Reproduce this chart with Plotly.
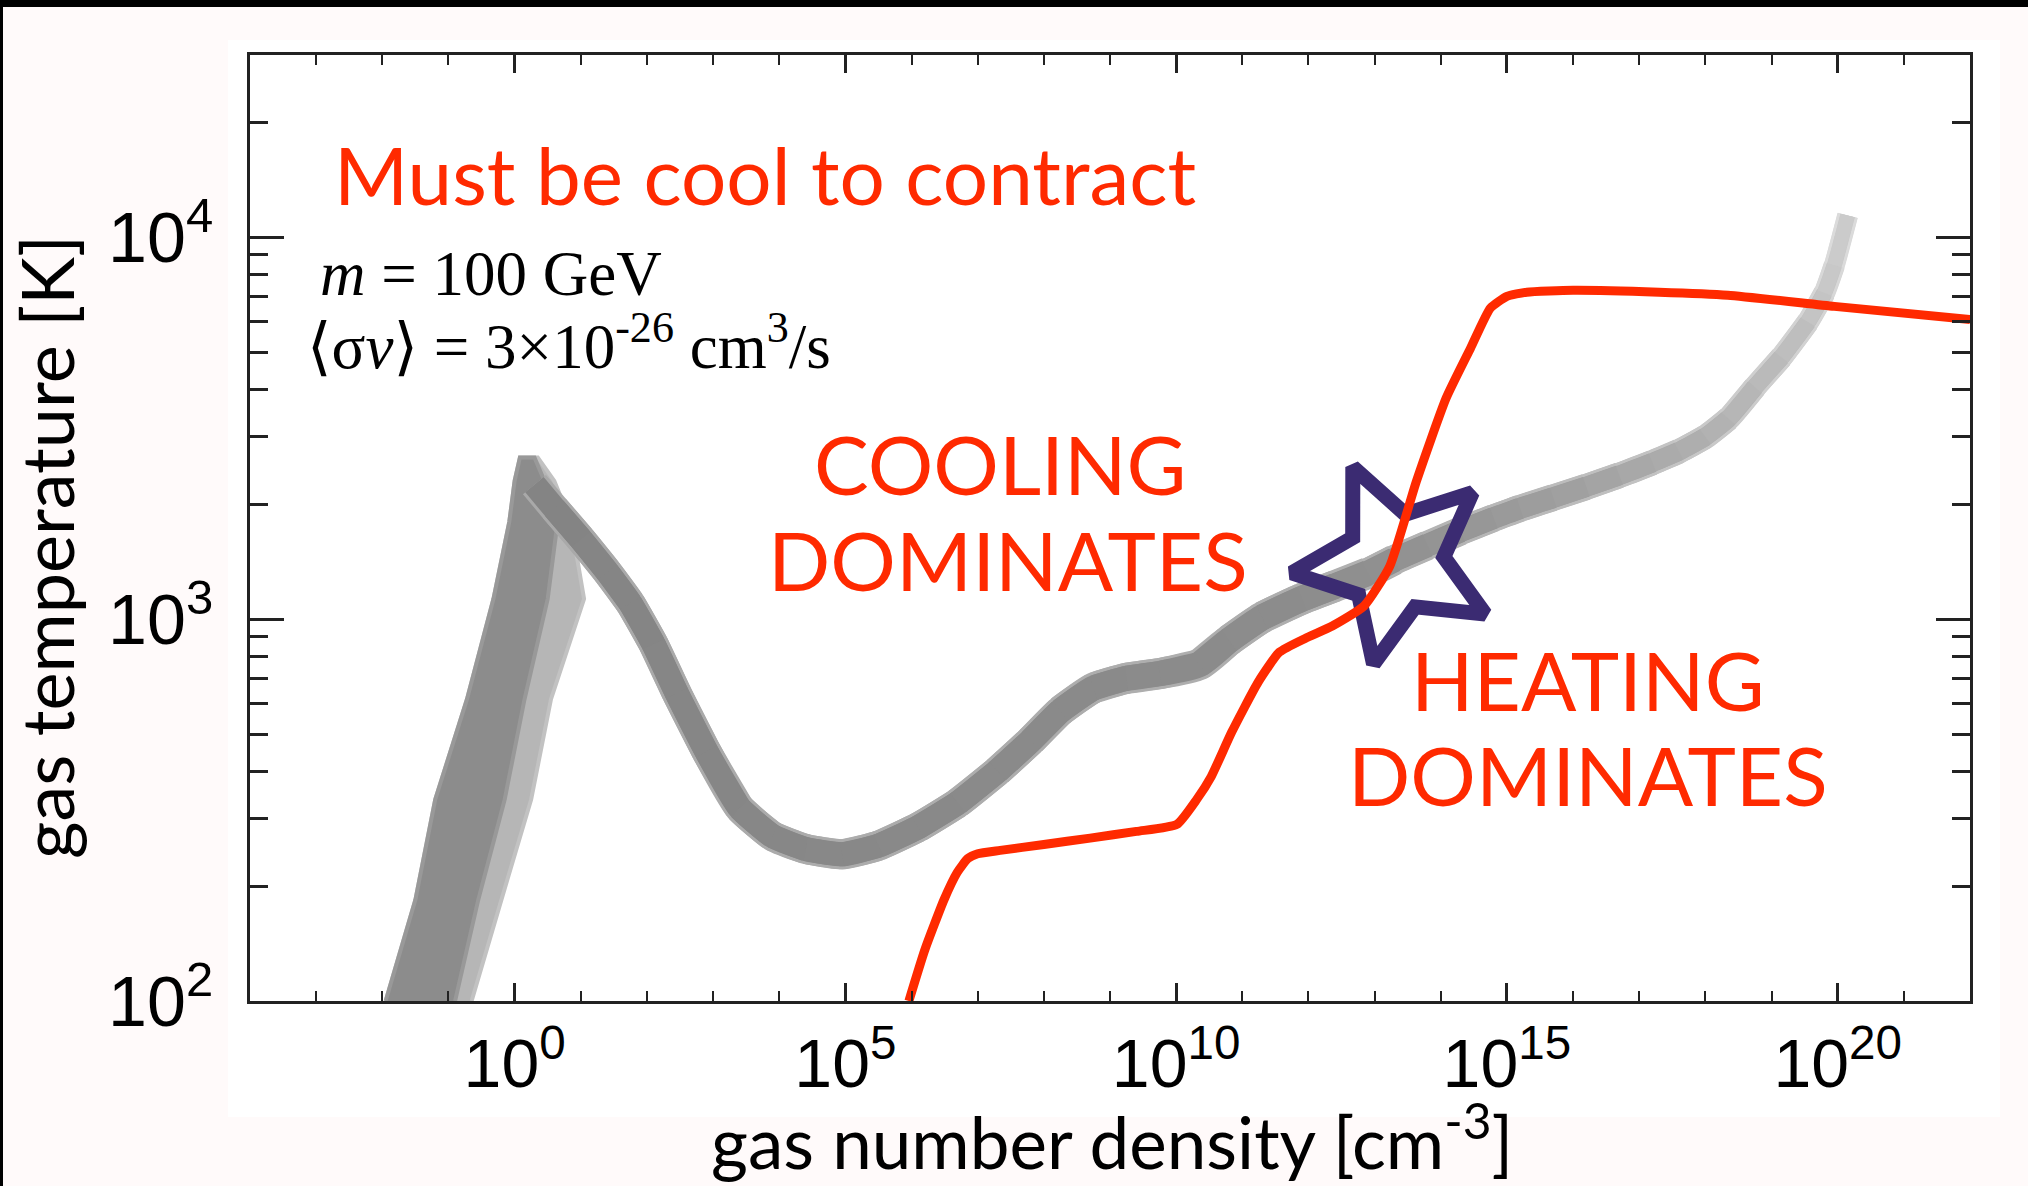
import numpy as np
import plotly.graph_objects as go

# ---------------------------------------------------------------------------
# Data
# ---------------------------------------------------------------------------
# Simulated gas track: temperature [K] vs log10 number density [cm^-3]
track_log_n = [0.3, 0.6, 1.0, 1.4, 1.75, 2.1, 2.45, 2.9, 3.4, 3.9, 4.4, 4.95,
               5.5, 6.1, 6.7, 7.3, 7.8, 8.25, 8.75, 9.25, 9.75, 10.35, 10.8,
               11.3, 11.9, 12.4, 12.9, 13.3, 13.8, 14.3, 14.8, 15.2, 15.7,
               16.2, 16.7, 17.2, 17.6, 18.0, 18.35, 18.75, 19.15, 19.55,
               19.8, 19.95, 20.15]
track_T = [2250, 1950, 1620, 1330, 1100, 860, 640, 450, 320, 270, 250, 242,
           255, 285, 330, 400, 480, 575, 660, 700, 720, 760, 880,
           1010, 1130, 1220, 1320, 1430, 1560, 1700, 1840, 1950, 2080,
           2220, 2380, 2570, 2750, 3000, 3350, 4050, 4850, 6000,
           7150, 8450, 11400]

# Low-density spread of the track (left / right envelopes at given T)
spread_T = [100, 184, 337, 617, 1130, 1800, 2300, 2650]
spread_left_log_n = [-1.95, -1.5, -1.2, -0.72, -0.32, -0.08, 0.0, 0.08]
spread_right_log_n = [-0.9, -0.55, -0.15, 0.15, 0.5, 0.65, 0.45, 0.3]
halo_right_log_n = [-0.65, -0.2, 0.25, 0.55, 1.05, 0.85, 0.6, 0.35]

# Dark-matter annihilation heating = cooling curve
heat_log_n = [5.96, 6.2, 6.49, 6.69, 6.85, 7.0, 7.34, 8.0, 8.7, 9.4, 10.01,
              10.31, 10.53, 10.84, 11.24, 11.56, 11.95, 12.36, 12.84, 13.23,
              13.63, 14.08, 14.45, 14.75, 15.0, 15.3, 16.0, 17.3,
              18.34, 19.95, 22.0]
heat_T = [100, 136, 184, 217, 236, 243, 248, 257, 267, 278, 290,
          337, 387, 506, 684, 819, 890, 959, 1082, 1377,
          2290, 3785, 5120, 6520, 7000, 7180, 7260, 7180,
          7050, 6590, 6090]

# Crossing point marked by the star
star_log_n = 13.31
star_T = 1410

# Axis ticks
x_major_exp = [0, 5, 10, 15, 20]
y_major_exp = [2, 3, 4]

# ---------------------------------------------------------------------------
# Layout geometry / styles
# ---------------------------------------------------------------------------
W, H = 2028, 1186
ML, MR, MT, MB = 250, 58, 55, 185
PW, PH = W - ML - MR, H - MT - MB
LOGN_RANGE = [-4, 22]
LOGT_RANGE = [2, np.log10(30000)]
PX_PER_DEC_X = PW / (LOGN_RANGE[1] - LOGN_RANGE[0])
PX_PER_DEC_Y = PH / (LOGT_RANGE[1] - LOGT_RANGE[0])

RED = "#ff2a00"
NAVY = "#3b2b72"
SANS = "Lato, 'Gill Sans', 'Noto Sans', sans-serif"
SERIF = "'Liberation Serif', 'Times New Roman', 'DejaVu Serif', serif"
HELV = "Liberation Sans, Arial, Helvetica, sans-serif"

# grey level and stroke width of the track as it runs to high density
shade_stop_log_n = [0.3, 6.0, 12.0, 14.0, 16.0, 18.0, 19.5, 20.15]
shade_stop_grey = [132, 137, 140, 148, 160, 176, 192, 205]
shade_stop_width = [24, 24, 26, 22, 20, 18, 16, 14]


def px_to_paper_x(px):
    return (px - ML) / PW


def px_to_paper_y(py):
    return (H - MB - py) / PH


fig = go.Figure()

# Low-density spread: light halo then darker core
halo_x = [10 ** v for v in spread_left_log_n] + [10 ** v for v in halo_right_log_n[::-1]]
halo_y = spread_T + spread_T[::-1]
fig.add_trace(go.Scatter(x=halo_x, y=halo_y, mode="lines", fill="toself",
                         fillcolor="#b6b6b6", line=dict(color="#c2c2c2", width=4),
                         hoverinfo="skip", showlegend=False))
core_x = [10 ** v for v in spread_left_log_n] + [10 ** v for v in spread_right_log_n[::-1]]
fig.add_trace(go.Scatter(x=core_x, y=halo_y, mode="lines", fill="toself",
                         fillcolor="#8c8c8c", line=dict(color="#999999", width=4),
                         hoverinfo="skip", showlegend=False))

# Main track: one short piece per interval (each running one interval ahead,
# so the next piece covers the join), shaded along the density
tn = np.array(track_log_n)
tt = np.array(track_T)
n_pts = len(tn)
for layer in ("halo", "core"):
    for k in range(n_pts - 1):
        hi = min(k + 3, n_pts)
        mid_n = 0.5 * (tn[k] + tn[k + 1])
        g = float(np.interp(mid_n, shade_stop_log_n, shade_stop_grey))
        w = float(np.interp(mid_n, shade_stop_log_n, shade_stop_width))
        if layer == "halo":
            g = g + (255 - g) * 0.3
            w = w + 6
        g = int(round(g))
        fig.add_trace(go.Scatter(
            x=10 ** tn[k:hi], y=tt[k:hi], mode="lines",
            line=dict(color=f"rgb({g},{g},{g})", width=w, shape="spline", smoothing=0.6),
            hoverinfo="skip", showlegend=False))

# Star outline around the crossing point (sizes in screen pixels)
R_OUT, R_IN, ROT = 104, 49, 24
verts = []
for k in range(10):
    ang = np.radians(90 + ROT - 36 * k)
    rad = R_OUT if k % 2 == 0 else R_IN
    verts.append((rad * np.cos(ang), rad * np.sin(ang)))
mid = ((verts[0][0] + verts[1][0]) / 2, (verts[0][1] + verts[1][1]) / 2)
path = [mid] + verts[1:] + [verts[0], mid]
sx = [10 ** (star_log_n + dx / PX_PER_DEC_X) for dx, dy in path]
sy = [10 ** (np.log10(star_T) + dy / PX_PER_DEC_Y) for dx, dy in path]

fig.add_trace(go.Scatter(x=sx, y=sy, mode="lines",
                         line=dict(color=NAVY, width=15),
                         hoverinfo="skip", showlegend=False))

# Heating curve
fig.add_trace(go.Scatter(x=[10 ** v for v in heat_log_n], y=heat_T, mode="lines",
                         line=dict(color=RED, width=9, shape="spline", smoothing=0.5),
                         hoverinfo="skip", showlegend=False))

# ---------------------------------------------------------------------------
# Axes
# ---------------------------------------------------------------------------
x_minor = [10.0 ** k for k in range(-3, 22) if k % 5 != 0]
y_minor = [m * 10.0 ** e for e in (2, 3) for m in range(2, 10)] + [20000]

fig.update_xaxes(
    type="log", range=LOGN_RANGE,
    tickmode="array",
    tickvals=[10.0 ** e for e in x_major_exp],
    ticktext=[f"10<sup>{e}</sup>" for e in x_major_exp],
    ticks="inside", ticklen=18, tickwidth=2.5, tickcolor="#222",
    minor=dict(tickmode="array", tickvals=x_minor, ticks="inside",
               ticklen=10, tickwidth=2, tickcolor="#222"),
    showline=True, linecolor="#222", linewidth=2.5, mirror="ticks",
    showgrid=False, zeroline=False,
    tickfont=dict(family=HELV, size=68, color="black"),
    ticklabelstandoff=2,
)
fig.update_yaxes(
    type="log", range=LOGT_RANGE,
    tickmode="array",
    tickvals=[10.0 ** e for e in y_major_exp],
    ticktext=[f"10<sup>{e}</sup>" for e in y_major_exp],
    ticks="inside", ticklen=34, tickwidth=3, tickcolor="#222",
    minor=dict(tickmode="array", tickvals=y_minor, ticks="inside",
               ticklen=18, tickwidth=3, tickcolor="#222"),
    showline=True, linecolor="#222", linewidth=2.5, mirror="ticks",
    showgrid=False, zeroline=False,
    tickfont=dict(family=HELV, size=70, color="black"),
    ticklabelstandoff=20,
)

# ---------------------------------------------------------------------------
# Background panels
# ---------------------------------------------------------------------------
shapes = [
    # white panel behind the plot
    dict(type="rect", xref="paper", yref="paper", layer="below",
         x0=px_to_paper_x(228), x1=px_to_paper_x(2000),
         y0=px_to_paper_y(1117), y1=px_to_paper_y(40),
         fillcolor="white", line=dict(width=0)),
    # black frame strips
    dict(type="rect", xref="paper", yref="paper", layer="above",
         x0=px_to_paper_x(-5), x1=px_to_paper_x(W + 5),
         y0=px_to_paper_y(7), y1=px_to_paper_y(-5),
         fillcolor="black", line=dict(width=0)),
    dict(type="rect", xref="paper", yref="paper", layer="above",
         x0=px_to_paper_x(-5), x1=px_to_paper_x(3),
         y0=px_to_paper_y(H + 5), y1=px_to_paper_y(-5),
         fillcolor="black", line=dict(width=0)),
]

# ---------------------------------------------------------------------------
# Text
# ---------------------------------------------------------------------------
def note(text, px_x, px_bottom, font, size, color, xanchor="left"):
    return dict(text=text, xref="paper", yref="paper",
                x=px_to_paper_x(px_x), y=px_to_paper_y(px_bottom),
                xanchor=xanchor, yanchor="bottom", showarrow=False,
                font=dict(family=font, size=size, color=color))

annotations = [
    note("Must be cool to contract", 332, 224, SANS, 80, RED),
    note("<i>m</i> = 100 GeV", 318, 311, SERIF, 63, "black"),
    note("\u27e8\u03c3<i>v</i>\u27e9 = 3\u00d710<sup>-26</sup> cm<sup>3</sup>/s",
         305, 384, SERIF, 63, "black"),
    note("COOLING", 1000, 514, SANS, 82, RED, "center"),
    note("DOMINATES", 1008, 610, SANS, 82, RED, "center"),
    note("HEATING", 1588, 730, SANS, 82, RED, "center"),
    note("DOMINATES", 1588, 825, SANS, 82, RED, "center"),
    note("gas number density [cm<sup>-3</sup>]", 1112, 1186, SANS, 71, "black", "center"),
    dict(text="gas temperature [K]", xref="paper", yref="paper",
         x=px_to_paper_x(46), y=px_to_paper_y(547), xanchor="center", yanchor="middle",
         textangle=-90, showarrow=False,
         font=dict(family=SANS, size=72, color="black")),
]

fig.update_layout(
    width=W, height=H,
    margin=dict(l=ML, r=MR, t=MT, b=MB, pad=0),
    paper_bgcolor="#fffafa",
    plot_bgcolor="white",
    shapes=shapes,
    annotations=annotations,
    showlegend=False,
)

fig.write_html("out.html")
